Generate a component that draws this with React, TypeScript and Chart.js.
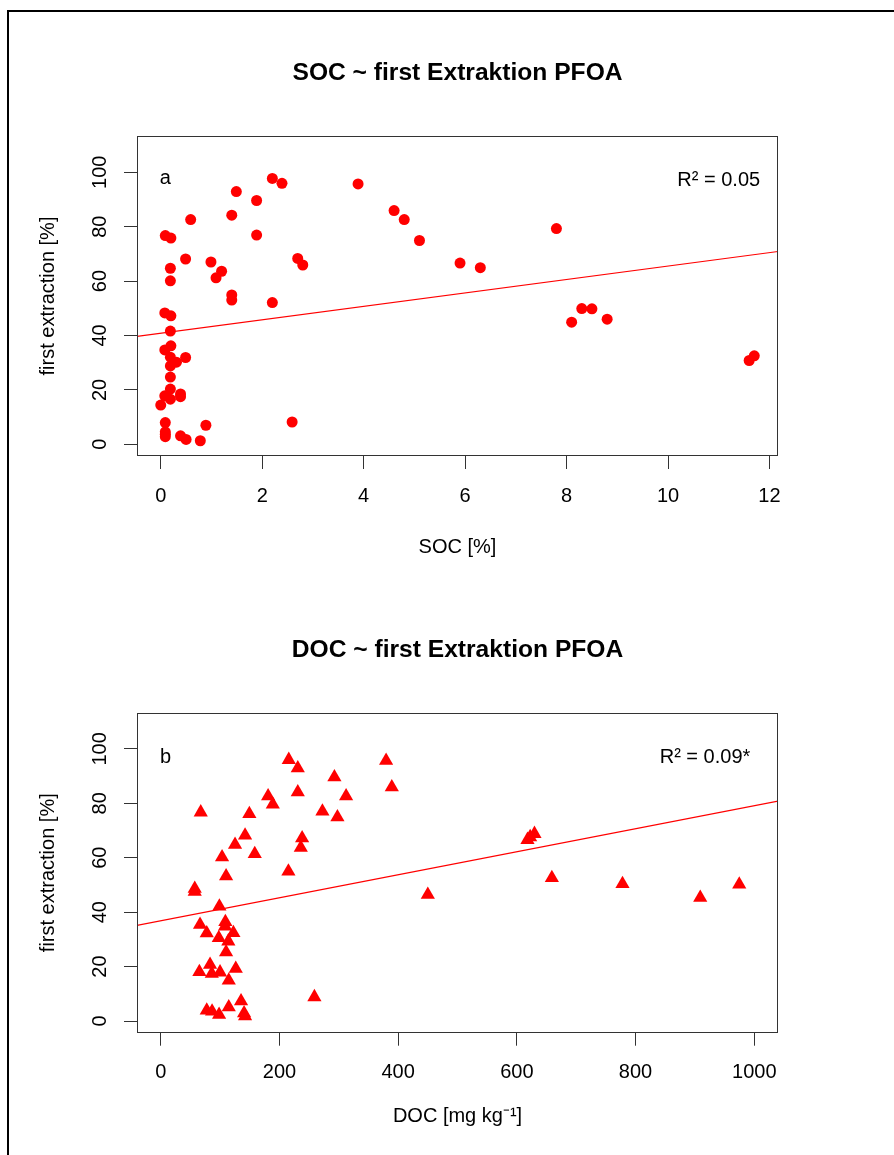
import React, { useEffect, useRef } from "react";
import { Chart, registerables } from "chart.js";

Chart.register(...registerables);

const FONT = "'Liberation Sans', Arial, Helvetica, sans-serif";
const RED = "#FF0000";
const AXIS_COLOR = "#333333";

// ---------- panel a: SOC ----------
const SOC_X = [
  0.09, 0.2, 0.59, 1.49, 2.2, 2.39, 1.89, 1.4, 1.89, 3.89, 4.6, 4.8, 5.1, 5.9, 6.3, 7.8,
  8.3, 8.5, 8.1, 8.8, 11.6, 11.7, 0.49, 0.19, 0.19, 0.99, 1.2, 1.09, 2.7, 2.8, 1.4, 1.4,
  2.2, 0.08, 0.2, 0.19, 0.2, 0.08, 0.49, 0.19, 0.31, 0.19, 0.19, 0.19, 0.08, 0.19, 0.39,
  0.39, 0.0, 0.09, 2.59, 0.89, 0.09, 0.09, 0.39, 0.5, 0.78, 0.09,
];
const SOC_Y = [
  76.7, 75.8, 82.6, 92.9, 97.7, 95.9, 89.6, 84.2, 76.9, 95.7, 85.9, 82.6, 74.9, 66.6, 64.9, 79.3,
  49.9, 49.8, 44.9, 46.0, 30.8, 32.5, 68.1, 64.7, 60.1, 67.0, 63.6, 61.2, 68.3, 65.9, 54.9, 53.0,
  52.1, 48.3, 47.2, 41.6, 36.2, 34.7, 31.9, 32.0, 30.2, 28.8, 24.7, 20.3, 17.8, 16.6, 18.5,
  17.5, 14.4, 8.0, 8.2, 7.0, 4.6, 2.8, 3.1, 1.8, 1.3, 3.7,
];
const SOC_TICKS = [0, 2, 4, 6, 8, 10, 12];
const SOC_RANGE = [-0.468, 12.168];
const SOC_FIT = [40.8, 2.47]; // intercept, slope

// ---------- panel b: DOC ----------
const DOC_X = [
  215.7, 230.9, 379.7, 389.3, 292.6, 312.3, 230.9, 180.9, 188.8, 67.4, 272.4, 297.7, 149.3,
  142.1, 125.2, 238.2, 236.0, 158.4, 103.3, 110.1, 215.1, 57.3, 57.3, 98.8, 450.0, 66.2,
  108.9, 108.4, 77.5, 122.4, 97.8, 113.9, 110.1, 83.1, 65.1, 86.0, 99.9, 126.4, 114.6,
  258.9, 135.3, 114.6, 77.5, 86.5, 98.3, 140.4, 142.1, 622.4, 629.7, 617.9, 659, 778, 909, 974.7,
];
const DOC_Y = [
  96.0, 92.9, 95.7, 85.9, 89.6, 82.6, 84.1, 82.6, 79.6, 76.7, 77.0, 74.9, 76.1,
  68.2, 64.8, 67.2, 63.7, 61.4, 60.2, 53.2, 55.0, 48.6, 47.5, 42.1, 46.4, 35.4,
  36.4, 34.8, 32.3, 32.4, 30.5, 29.3, 25.3, 20.7, 18.0, 17.4, 17.9, 19.2, 14.9,
  8.8, 7.3, 5.1, 3.9, 3.5, 2.3, 2.9, 1.8, 67.6, 68.8, 66.6, 52.6, 50.4, 45.3, 50.2,
];
const DOC_TICKS = [0, 200, 400, 600, 800, 1000];
const DOC_RANGE = [-40, 1040];
const DOC_FIT = [36.8, 0.0423];

// ---------- shared ----------
const Y_TICKS = [0, 20, 40, 60, 80, 100];
const Y_RANGE = [-4.3, 113.3];
const Y_TITLE = "first extraction [%]";

type Annot = { text: string; x: number; y: number };

type PanelProps = {
  top: number;
  height: number;
  title: string;
  xTitle: string;
  xs: number[];
  ys: number[];
  xTicks: number[];
  xRange: number[];
  fit: number[];
  annots: Annot[];
  pointStyle: string;
  pointRadius: number;
  titlePadTop: number;
  titlePadBottom: number;
  xAxisHeight: number;
  xTitlePad: number;
};

const boxPlugin = {
  id: "rbox",
  afterDatasetsDraw(chart: any) {
    const { ctx, chartArea } = chart;
    ctx.save();
    ctx.strokeStyle = AXIS_COLOR;
    ctx.lineWidth = 1;
    ctx.strokeRect(
      Math.round(chartArea.left) + 0.5,
      Math.round(chartArea.top) + 0.5,
      Math.round(chartArea.right - chartArea.left) - 1,
      Math.round(chartArea.bottom - chartArea.top) - 1
    );
    ctx.restore();
  },
};

function Panel(p: PanelProps) {
  const ref = useRef<HTMLCanvasElement | null>(null);
  useEffect(() => {
    if (!ref.current) return;
    const [a, b] = p.fit;
    const annotPlugin = {
      id: "annots",
      afterDatasetsDraw(chart: any) {
        const { ctx } = chart;
        const xs = chart.scales.x;
        const ys = chart.scales.y;
        ctx.save();
        ctx.font = `20px ${FONT}`;
        ctx.fillStyle = "#000";
        ctx.textAlign = "center";
        ctx.textBaseline = "middle";
        p.annots.forEach((an) => {
          ctx.fillText(an.text, xs.getPixelForValue(an.x), ys.getPixelForValue(an.y));
        });
        ctx.restore();
      },
    };
    const chart = new Chart(ref.current, {
      type: "scatter",
      data: {
        datasets: [
          {
            type: "line",
            data: [
              { x: p.xRange[0], y: a + b * p.xRange[0] },
              { x: p.xRange[1], y: a + b * p.xRange[1] },
            ],
            borderColor: RED,
            borderWidth: 1.2,
            pointRadius: 0,
            fill: false,
          } as any,
          {
            data: p.xs.map((x, i) => ({ x, y: p.ys[i] })),
            pointStyle: p.pointStyle as any,
            pointRadius: p.pointRadius,
            pointHoverRadius: p.pointRadius,
            backgroundColor: RED,
            borderColor: RED,
            borderWidth: 0,
          },
        ],
      },
      options: {
        responsive: false,
        animation: false,
        devicePixelRatio: 1,
        events: [],
        layout: { padding: { left: 0, right: 116, top: 0, bottom: 0 } },
        plugins: {
          legend: { display: false },
          tooltip: { enabled: false },
          title: {
            display: true,
            text: p.title,
            fullSize: false,
            color: "#000",
            font: { family: FONT, size: 24.6, weight: "bold", lineHeight: 1.2 },
            padding: { top: p.titlePadTop, bottom: p.titlePadBottom },
          },
        },
        scales: {
          x: {
            type: "linear",
            position: "bottom",
            min: p.xRange[0],
            max: p.xRange[1],
            afterBuildTicks: (s: any) => {
              s.ticks = p.xTicks.map((v) => ({ value: v }));
            },
            afterFit: (s: any) => {
              s.height = p.xAxisHeight;
            },
            grid: {
              display: true,
              drawOnChartArea: false,
              drawTicks: true,
              tickLength: 13,
              color: AXIS_COLOR,
              lineWidth: 1,
            },
            border: { display: false },
            ticks: {
              font: { family: FONT, size: 20, lineHeight: 1.2 },
              color: "#000",
              padding: 15,
              minRotation: 0,
              maxRotation: 0,
              autoSkip: false,
              callback: (v: any) => String(v),
            },
            title: {
              display: true,
              text: p.xTitle,
              color: "#000",
              font: { family: FONT, size: 20, lineHeight: 1.2 },
              padding: { top: 0, bottom: p.xTitlePad },
            },
          },
          y: {
            type: "linear",
            position: "left",
            min: Y_RANGE[0],
            max: Y_RANGE[1],
            afterBuildTicks: (s: any) => {
              s.ticks = Y_TICKS.map((v) => ({ value: v }));
            },
            afterFit: (s: any) => {
              s.width = 137;
            },
            grid: {
              display: true,
              drawOnChartArea: false,
              drawTicks: true,
              tickLength: 13,
              color: AXIS_COLOR,
              lineWidth: 1,
            },
            border: { display: false },
            ticks: {
              font: { family: FONT, size: 20, lineHeight: 1.2 },
              color: "#000",
              padding: 7,
              minRotation: 90,
              maxRotation: 90,
              crossAlign: "center",
              autoSkip: false,
              callback: (v: any) => String(v),
            },
            title: {
              display: true,
              text: Y_TITLE,
              color: "#000",
              font: { family: FONT, size: 20, lineHeight: 1.2 },
              padding: { top: 36, bottom: 0 },
            },
          },
        },
      } as any,
      plugins: [boxPlugin, annotPlugin],
    });
    return () => chart.destroy();
  }, []);
  return (
    <canvas
      ref={ref}
      width={894}
      height={p.height}
      style={{ position: "absolute", left: 0, top: p.top, width: 894, height: p.height, display: "block" }}
    />
  );
}

export default function App() {
  return (
    <div
      style={{
        position: "absolute",
        left: 0,
        top: 0,
        width: 894,
        height: 1155,
        overflow: "hidden",
        background: "#fff",
      }}
    >
      <div
        style={{
          position: "absolute",
          left: 7,
          top: 10,
          width: 900,
          height: 1160,
          borderTop: "2px solid #000",
          borderLeft: "2px solid #000",
        }}
      />
      <Panel
        top={0}
        height={578}
        title="SOC ~ first Extraktion PFOA"
        xTitle="SOC [%]"
        xs={SOC_X}
        ys={SOC_Y}
        xTicks={SOC_TICKS}
        xRange={SOC_RANGE}
        fit={SOC_FIT}
        annots={[
          { text: "a", x: 0.09, y: 97.6 },
          { text: "R² = 0.05", x: 11.0, y: 97.1 },
        ]}
        pointStyle="circle"
        pointRadius={5.5}
        titlePadTop={58.4}
        titlePadBottom={48.1}
        xAxisHeight={122}
        xTitlePad={19}
      />
      <Panel
        top={578}
        height={577}
        title="DOC ~ first Extraktion PFOA"
        xTitle="DOC [mg kg⁻¹]"
        xs={DOC_X}
        ys={DOC_Y}
        xTicks={DOC_TICKS}
        xRange={DOC_RANGE}
        fit={DOC_FIT}
        annots={[
          { text: "b", x: 8, y: 97.0 },
          { text: "R² = 0.09*", x: 917, y: 97.0 },
        ]}
        pointStyle="triangle"
        pointRadius={8.2}
        titlePadTop={57.4}
        titlePadBottom={47.8}
        xAxisHeight={122.3}
        xTitlePad={27}
      />
    </div>
  );
}
